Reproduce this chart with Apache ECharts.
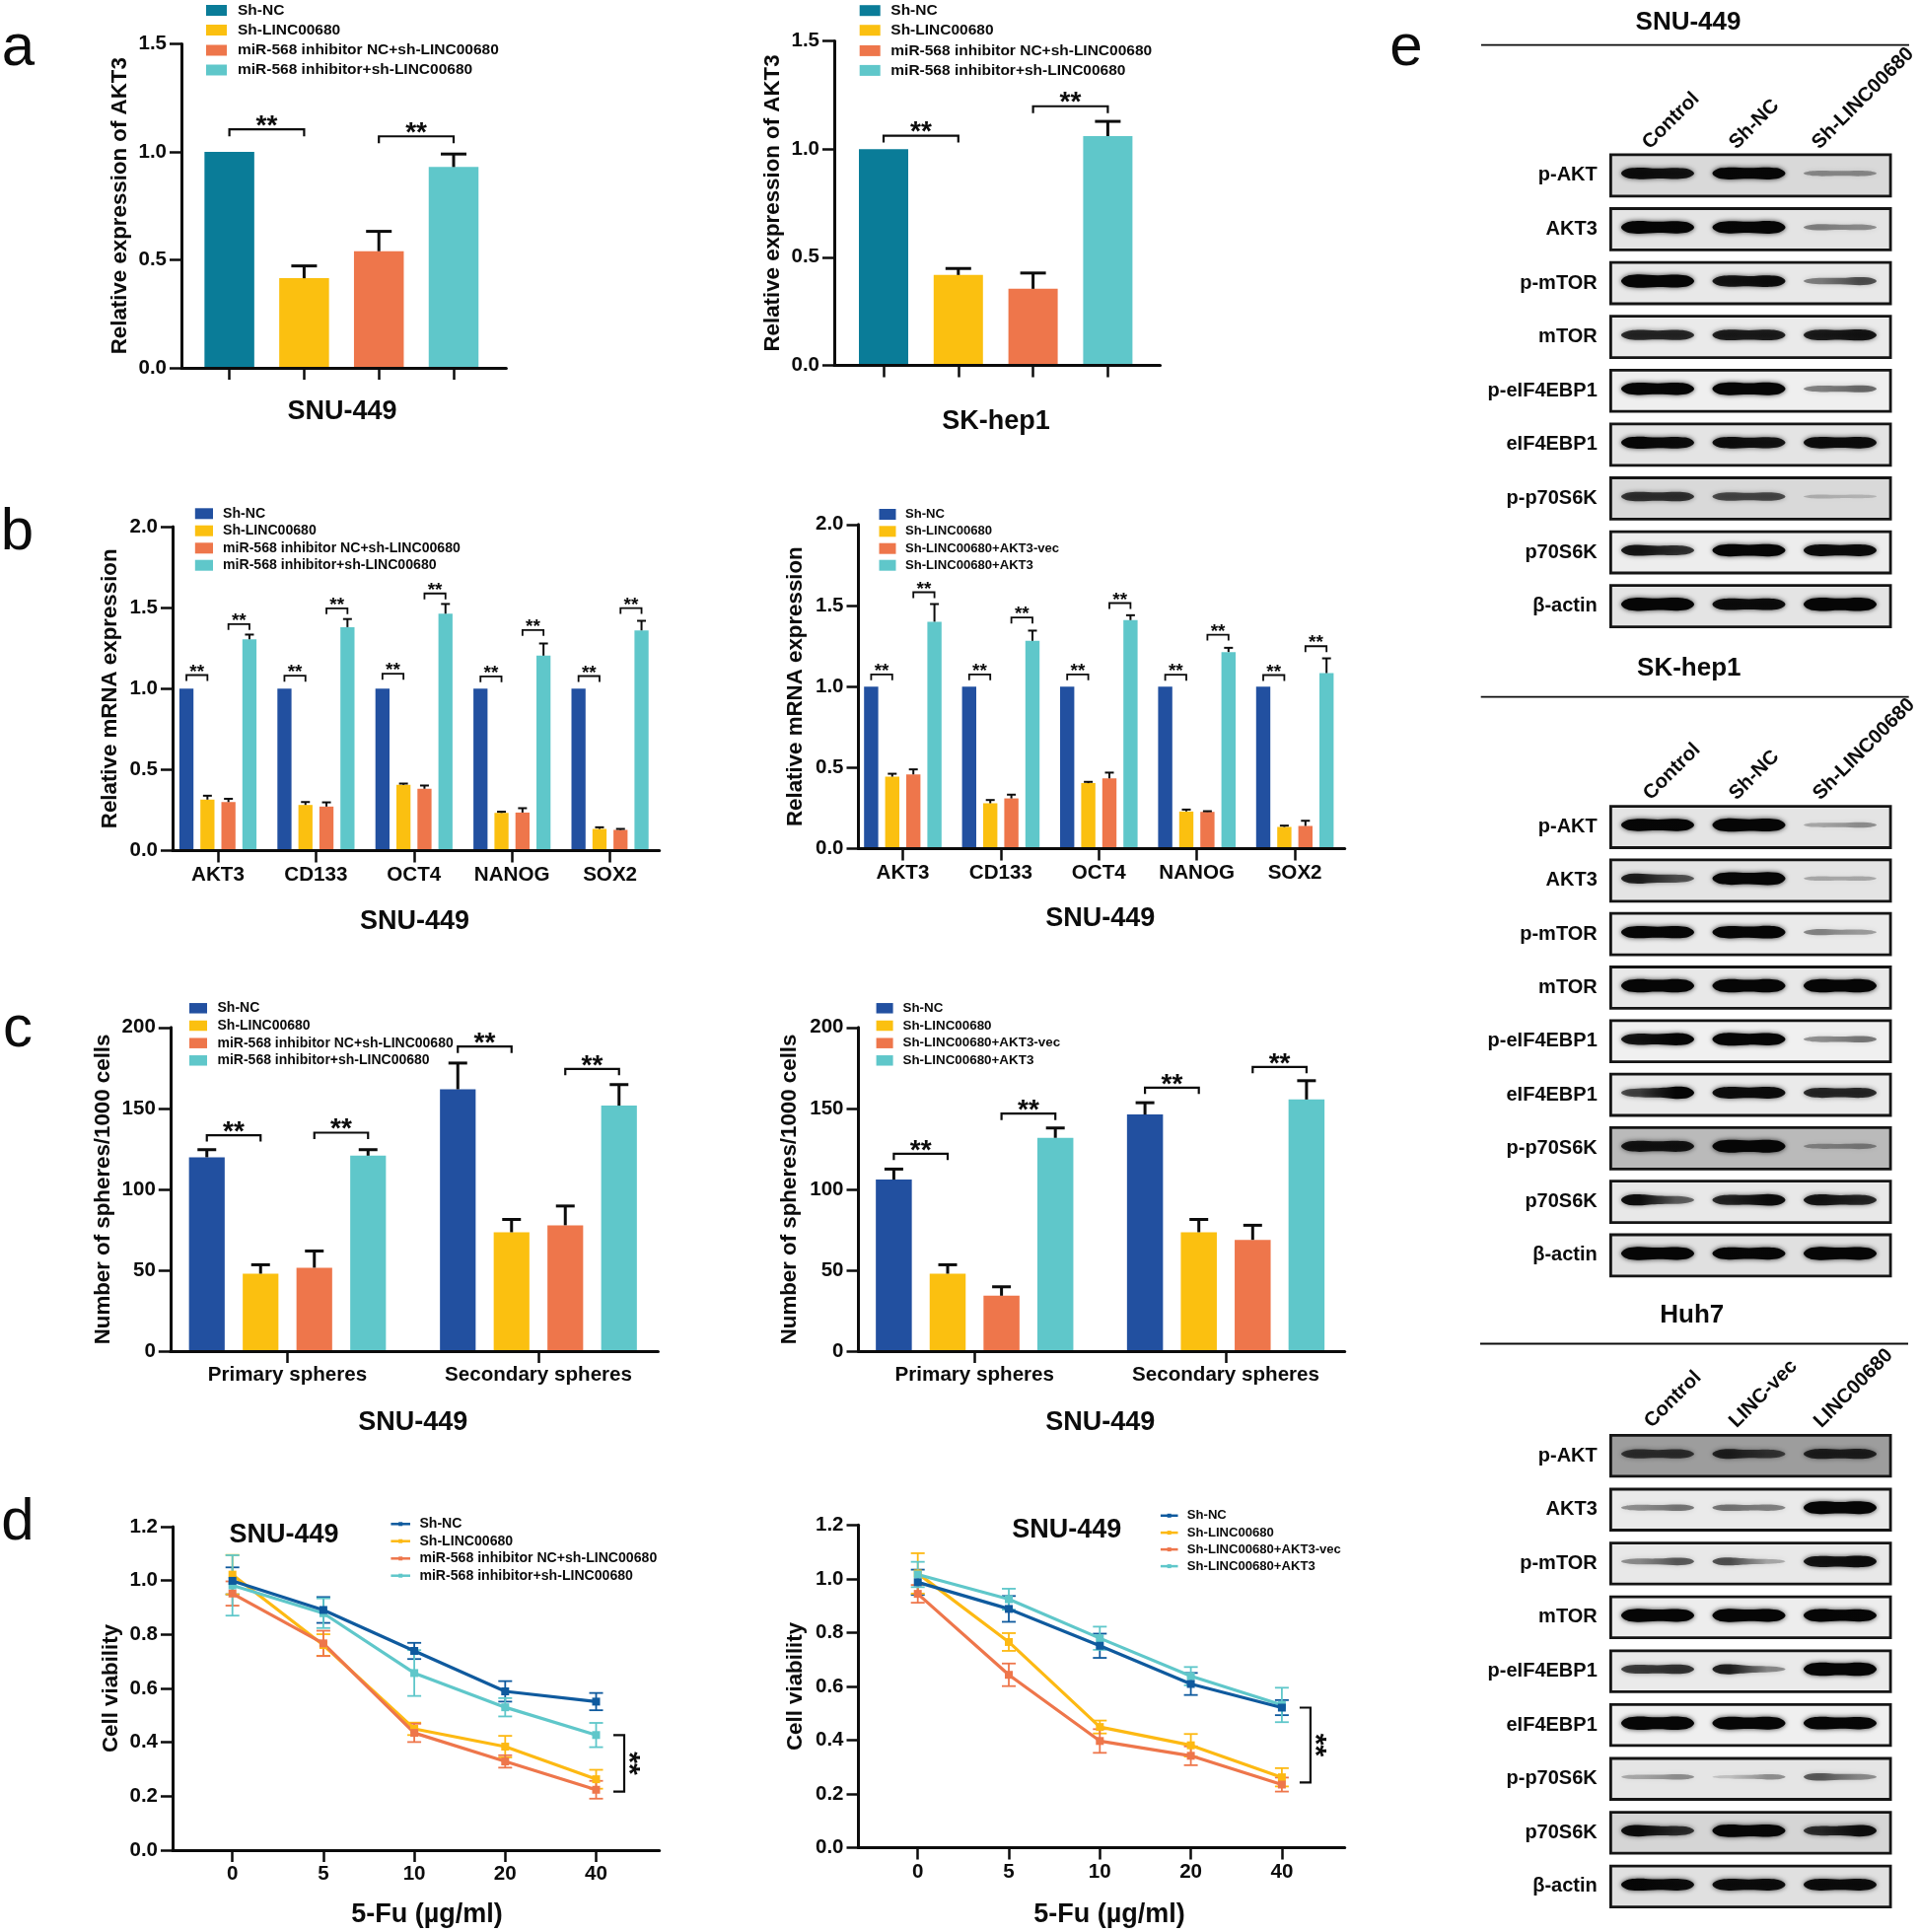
<!DOCTYPE html>
<html><head><meta charset="utf-8">
<style>html,body{margin:0;padding:0;background:#fff}#c{width:1946px;height:1959px}</style>
<script src="https://cdn.jsdelivr.net/npm/echarts@6/dist/echarts.min.js"></script></head>
<body><div id="c"></div>
<script>
// ---------- DATA ----------
const legendInhibitor=['Sh-NC','Sh-LINC00680','miR-568 inhibitor NC+sh-LINC00680','miR-568 inhibitor+sh-LINC00680'];
const legendAkt3=['Sh-NC','Sh-LINC00680','Sh-LINC00680+AKT3-vec','Sh-LINC00680+AKT3'];
const genes=['AKT3','CD133','OCT4','NANOG','SOX2'];
const sphereTypes=['Primary spheres','Secondary spheres'];
const doses=['0','5','10','20','40'];

const aLeftValues=[1,0.415,0.54,0.93];
const aLeftTops=[1,0.472,0.632,0.99];
const aRightValues=[1,0.418,0.354,1.06];
const aRightTops=[1,0.448,0.427,1.128];

const bLeftNC=[1,1,1,1,1];
const bLeftSh=[0.315,0.282,0.406,0.233,0.134];
const bLeftInhNC=[0.30,0.272,0.382,0.235,0.128];
const bLeftInh=[1.305,1.38,1.463,1.204,1.36];
const bLeftShTop=[0.339,0.30,0.414,0.24,0.144];
const bLeftInhNCTop=[0.32,0.298,0.402,0.262,0.134];
const bLeftInhTop=[1.334,1.43,1.523,1.279,1.419];
const bLeftPair1=[1.084,1.08,1.092,1.076,1.078];
const bLeftPair2=[1.399,1.496,1.588,1.362,1.498];

const bRightNC=[1,1,1,1,1];
const bRightSh=[0.444,0.28,0.404,0.229,0.134];
const bRightVec=[0.458,0.31,0.434,0.227,0.14];
const bRightAkt=[1.40,1.282,1.41,1.213,1.083];
const bRightShTop=[0.462,0.30,0.412,0.241,0.142];
const bRightVecTop=[0.489,0.333,0.469,0.231,0.172];
const bRightAktTop=[1.509,1.345,1.44,1.239,1.174];
const bRightPair1=[1.075,1.075,1.075,1.073,1.071];
const bRightPair2=[1.582,1.426,1.515,1.32,1.249];

const cLeftNC=[119.8,161.8], cLeftSh=[47.9,73.5], cLeftInhNC=[51.6,77.8], cLeftInh=[120.8,151.7];
const cLeftNCTop=[124.5,178], cLeftShTop=[53.4,81.4], cLeftInhNCTop=[61.9,89.7], cLeftInhTop=[124.5,164.7];
const cLeftPair1=[133.4,188.2], cLeftPair2=[135,174.4];
const cRightNC=[106,146.2], cRightSh=[47.9,73.5], cRightVec=[34.3,68.8], cRightAkt=[131.8,155.5];
const cRightNCTop=[112.5,153.5], cRightShTop=[53.4,81.4], cRightVecTop=[39.8,77.8], cRightAktTop=[137.9,167.1];
const cRightPair1=[122,162.8], cRightPair2=[146.8,175.6];

const dLeftNC=[0.999,0.891,0.739,0.589,0.551], dLeftNCErr=[0.05,0.048,0.03,0.038,0.032];
const dLeftSh=[1.022,0.761,0.45,0.384,0.263], dLeftShErr=[0.073,0.04,0.023,0.04,0.035];
const dLeftInhNC=[0.952,0.767,0.435,0.329,0.224], dLeftInhNCErr=[0.045,0.047,0.034,0.023,0.033];
const dLeftInh=[0.982,0.879,0.657,0.53,0.427], dLeftInhErr=[0.112,0.055,0.085,0.034,0.045];
const dRightNC=[0.987,0.888,0.751,0.609,0.521], dRightNCErr=[0.047,0.048,0.045,0.041,0.028];
const dRightSh=[1.02,0.765,0.449,0.381,0.262], dRightShErr=[0.075,0.033,0.024,0.042,0.034];
const dRightVec=[0.944,0.643,0.397,0.342,0.235], dRightVecErr=[0.033,0.042,0.044,0.035,0.026];
const dRightAkt=[1.016,0.924,0.779,0.638,0.531], dRightAktErr=[0.047,0.039,0.043,0.034,0.064];

const blotRows=['p-AKT','AKT3','p-mTOR','mTOR','p-eIF4EBP1','eIF4EBP1','p-p70S6K','p70S6K','β-actin'];
const lanesKnockdown=['Control','Sh-NC','Sh-LINC00680'];
const lanesOverexpress=['Control','LINC-vec','LINC00680'];
// band strength, left & right half of each lane
const blotSnu=[[.85,.8,.9,.9,.3,.3],[.95,.9,.9,.95,.35,.3],[1,.95,.8,.85,.35,.55],[.7,.7,.75,.75,.75,.8],[.9,.9,.95,.95,.35,.45],[.9,.85,.85,.8,.85,.85],[.65,.65,.55,.55,.15,.12],[.8,.65,.9,.9,.85,.85],[1,.95,.85,.85,1,1]];
const blotSk=[[.9,.9,1,.95,.2,.3],[.75,.5,.9,1,.2,.2],[.9,.9,.9,.95,.35,.25],[1,1,1,1,1,1],[.8,.9,.95,.9,.3,.4],[.55,.95,.85,.85,.7,.7],[.8,.8,.95,.95,.25,.3],[.85,.45,.7,.85,.8,.7],[1,.95,.9,.9,1,.95]];
const blotHuh=[[.6,.6,.7,.55,.7,.7],[.3,.4,.4,.35,.95,.95],[.3,.5,.55,.2,.8,.85],[1,.95,1,.95,.95,.9],[.6,.65,.75,.3,1,1],[1,1,.95,.95,.95,.9],[.2,.3,.1,.3,.5,.3],[.85,.65,.95,.9,.65,.85],[.9,.85,.85,.85,.85,.85]];
// membrane background darkness per row
const blotSnuBack=[.22,.15,.12,.1,.06,.15,.22,.08,.15];
const blotSkBack=[.15,.15,.1,.12,.05,.1,.4,.12,.18];
const blotHuhBack=[.55,.1,.12,.08,.1,.06,.14,.25,.18];

// ---------- BUILD ----------
const FONT='"Liberation Sans", Arial, sans-serif';
const TEAL_DARK='#0A7C98',NAVY='#2250A0',YEL='#FBC010',ORG='#EE764B',TEAL='#5FC7CA',LNAVY='#0F5A9E';
const INK='#0c0c0c';
const grid=[],xAxis=[],yAxis=[],series=[],graphic=[];

function txt(text,x,y,size,o){o=o||{};return {type:'text',x,y,rotation:o.rot||0,silent:true,z:50,style:{text,fontFamily:FONT,fontSize:size,fontWeight:o.weight||'bold',fill:o.fill||INK,align:o.align||'center',textAlign:o.align||'center',verticalAlign:o.va||'middle',textVerticalAlign:o.va||'middle'}};}
function rectLegend(names,colors,x,w,h,ys,tx,size){names.forEach((n,i)=>{
  graphic.push({type:'rect',silent:true,shape:{x,y:ys[i]-h/2,width:w,height:h},style:{fill:colors[i]}});
  graphic.push(txt(n,tx,ys[i],size,{align:'left'}));});}
function lineLegend(names,colors,x,w,ys,tx,size){names.forEach((n,i)=>{
  graphic.push({type:'line',silent:true,shape:{x1:x,y1:ys[i],x2:x+w,y2:ys[i]},style:{stroke:colors[i],lineWidth:2.5}});
  graphic.push({type:'rect',silent:true,shape:{x:x+w/2-2,y:ys[i]-2,width:4,height:4},style:{fill:colors[i]}});
  graphic.push(txt(n,tx,ys[i],size,{align:'left'}));});}

function frame(p){ // axis frame spanning the whole panel
  const g=grid.length;
  grid.push({left:p.axisX,top:p.top,width:p.right-p.axisX,height:p.y0-p.top});
  xAxis.push({gridIndex:g,type:'value',min:0,max:1,z:10,axisLine:{show:true,onZero:false,lineStyle:{color:INK,width:3}},axisTick:{show:false},axisLabel:{show:false},splitLine:{show:false}});
  yAxis.push({gridIndex:g,type:'value',min:0,max:p.ymax,interval:p.interval,z:10,
    name:p.yTitle,nameLocation:'middle',nameRotate:90,nameGap:p.axisX-p.yTitleX-p.yTitleSize/2,
    nameTextStyle:{fontFamily:FONT,fontWeight:'bold',fontSize:p.yTitleSize,color:INK},
    axisLine:{show:true,lineStyle:{color:INK,width:3}},axisTick:{show:true,length:12,lineStyle:{color:INK,width:2.5}},
    axisLabel:{margin:15,fontFamily:FONT,fontWeight:'bold',fontSize:20.5,color:INK,formatter:p.fmt},splitLine:{show:false}});
}
function dataGrid(p){ // category grid with the marks, same y scale as the frame
  const g=grid.length;
  grid.push({left:p.firstTick-p.band/2,top:p.top,width:p.band*p.cats.length,height:p.y0-p.top});
  xAxis.push({gridIndex:g,type:'category',data:p.cats,z:10,axisLine:{show:false},axisTick:{show:true,alignWithLabel:true,length:p.tickLen||12,lineStyle:{color:INK,width:2.5}},
    axisLabel:{show:!!p.showLabels,interval:0,margin:p.labelMargin||14,fontFamily:FONT,fontWeight:'bold',fontSize:20.6,color:INK}});
  yAxis.push({gridIndex:g,type:'value',min:0,max:p.ymax,show:false});
  return g;
}
function errBars(g,items,spacing,n,color,lw,cap){
  series.push({type:'custom',xAxisIndex:g,yAxisIndex:g,z:3,silent:true,data:items,encode:{x:0,y:[2,3]},clip:false,
    renderItem(params,api){
      const off=(api.value(1)-(n-1)/2)*spacing;
      const a=api.coord([api.value(0),api.value(2)]),b=api.coord([api.value(0),api.value(3)]);
      const x=a[0]+off;const st={stroke:color,lineWidth:lw};
      return {type:'group',children:[
        {type:'line',shape:{x1:x,y1:a[1],x2:x,y2:b[1]},style:st},
        {type:'line',shape:{x1:x-cap,y1:b[1],x2:x+cap,y2:b[1]},style:st}]};
    }});
}
function brackets(g,items,spacing,n,drop,lw,starSize,starUp){
  series.push({type:'custom',xAxisIndex:g,yAxisIndex:g,z:4,silent:true,data:items,encode:{x:0,y:4},clip:false,
    renderItem(params,api){
      const a=api.coord([api.value(0),api.value(4)]),b=api.coord([api.value(2),api.value(4)]);
      const x1=a[0]+(api.value(1)-(n-1)/2)*spacing,x2=b[0]+(api.value(3)-(n-1)/2)*spacing,y=a[1];
      return {type:'group',children:[
        {type:'polyline',shape:{points:[[x1,y+drop],[x1,y],[x2,y],[x2,y+drop]]},style:{stroke:INK,lineWidth:lw,fill:null}},
        {type:'text',style:{text:'**',x:(x1+x2)/2,y:y-starUp,align:'center',textAlign:'center',verticalAlign:'middle',textVerticalAlign:'middle',fontFamily:FONT,fontWeight:'bold',fontSize:starSize,fill:INK}}]};
    }});
}
function barPanel(p){
  frame(p);
  const g=dataGrid(p);
  const n=p.seriesVals.length;
  p.seriesVals.forEach((vals,i)=>{
    series.push({type:'bar',name:p.names[i],xAxisIndex:g,yAxisIndex:g,barWidth:p.barW,barGap:((p.spacing-p.barW)/p.barW*100)+'%',z:2,silent:true,
      itemStyle:{color:p.colors[i]},data:vals});
    const items=[];vals.forEach((v,c)=>{if(p.tops[i]&&p.tops[i][c]>v)items.push([c,i,v,p.tops[i][c]]);});
    if(items.length)errBars(g,items,p.spacing,n,INK,p.errW,p.cap);
  });
  brackets(g,p.brackets,p.spacing,n,p.drop,p.brW,p.starSize,p.starUp);
  rectLegend(p.names,p.colors,p.legX,p.legW,p.legH,p.legY,p.legTx,p.legSize);
  graphic.push(txt(p.title,p.titleX,p.titleY,27));
}

// a: single-bar panels (four categories, one bar each)
function aPanel(p){
  frame(p);
  const g=dataGrid(p);
  series.push({type:'bar',name:p.yTitle,xAxisIndex:g,yAxisIndex:g,barWidth:p.barW,z:2,silent:true,
    data:p.values.map((v,i)=>({value:v,itemStyle:{color:p.colors[i]}}))});
  const items=[];p.values.forEach((v,c)=>{if(p.tops[c]>v)items.push([c,0,v,p.tops[c]]);});
  errBars(g,items,0,1,INK,3,13);
  brackets(g,p.brackets,0,1,7,2.2,28,3);
  rectLegend(p.cats,p.colors,p.legX,p.legW,11,p.legY,p.legTx,15.5);
  graphic.push(txt(p.title,p.titleX,p.titleY,27));
}
const aColors=[TEAL_DARK,YEL,ORG,TEAL];
aPanel({axisX:184,right:513.4,top:44.5,y0:373,ymax:1.5,interval:0.5,fmt:v=>v.toFixed(1),yTitle:'Relative expression of AKT3',yTitleX:121.5,yTitleSize:22.3,
  firstTick:232.6,band:75.8,cats:legendInhibitor,barW:50.5,values:aLeftValues,tops:aLeftTops,colors:aColors,
  brackets:[[0,0,1,0,1.104],[2,0,3,0,1.072]],legX:209,legW:21,legY:[10.5,30.5,51,71],legTx:241,title:'SNU-449',titleX:347,titleY:417.3});
aPanel({axisX:846,right:1176.5,top:41.5,y0:370.5,ymax:1.5,interval:0.5,fmt:v=>v.toFixed(1),yTitle:'Relative expression of AKT3',yTitleX:784,yTitleSize:22.3,
  firstTick:896,band:75.8,cats:legendInhibitor,barW:50,values:aRightValues,tops:aRightTops,colors:aColors,
  brackets:[[0,0,1,0,1.062],[2,0,3,0,1.198]],legX:871.7,legW:21,legY:[10.7,30.7,51.4,71.4],legTx:903.3,title:'SK-hep1',titleX:1010,titleY:427.3});

const bColors=[NAVY,YEL,ORG,TEAL];
const pairs=(a,b)=>a.flatMap((v,i)=>[[i,0,i,1,v],[i,2,i,3,b[i]]]);
barPanel({axisX:175,right:668.7,top:534.1,y0:862.5,ymax:2,interval:0.5,fmt:v=>v.toFixed(1),yTitle:'Relative mRNA expression',yTitleX:111.5,yTitleSize:22.3,
  firstTick:221,band:99.4,cats:genes,showLabels:true,names:legendInhibitor,colors:bColors,barW:14.3,spacing:21.3,
  seriesVals:[bLeftNC,bLeftSh,bLeftInhNC,bLeftInh],tops:[null,bLeftShTop,bLeftInhNCTop,bLeftInhTop],errW:2,cap:4.5,
  brackets:pairs(bLeftPair1,bLeftPair2),drop:6,brW:1.8,starSize:19,starUp:3,
  legX:197.8,legW:18.2,legH:11,legY:[520.8,538.2,555.8,573.2],legTx:226,legSize:14.1,title:'SNU-449',titleX:420.5,titleY:934.3});
barPanel({axisX:870.5,right:1363.7,top:531.8,y0:860.5,ymax:2,interval:0.5,fmt:v=>v.toFixed(1),yTitle:'Relative mRNA expression',yTitleX:807,yTitleSize:22.3,
  firstTick:915.5,band:99.4,cats:genes,showLabels:true,names:legendAkt3,colors:bColors,barW:14.4,spacing:21.4,
  seriesVals:[bRightNC,bRightSh,bRightVec,bRightAkt],tops:[null,bRightShTop,bRightVecTop,bRightAktTop],errW:2,cap:4.5,
  brackets:pairs(bRightPair1,bRightPair2),drop:6,brW:1.8,starSize:19,starUp:3,
  legX:891.5,legW:17,legH:11,legY:[521.5,538.8,556.2,573.2],legTx:918,legSize:13.1,title:'SNU-449',titleX:1115.8,titleY:932});

barPanel({axisX:172.8,right:667.4,top:1041.8,y0:1370.1,ymax:200,interval:50,yTitle:'Number of spheres/1000 cells',yTitleX:105.2,yTitleSize:22.3,
  firstTick:291.5,band:254.5,cats:sphereTypes,showLabels:true,names:legendInhibitor,colors:bColors,barW:36.2,spacing:54.5,
  seriesVals:[cLeftNC,cLeftSh,cLeftInhNC,cLeftInh],tops:[cLeftNCTop,cLeftShTop,cLeftInhNCTop,cLeftInhTop],errW:3,cap:9.5,
  brackets:pairs(cLeftPair1,cLeftPair2),drop:6.5,brW:2.2,starSize:28,starUp:3,
  legX:192,legW:18,legH:10.5,legY:[1022.3,1040,1057.7,1075.3],legTx:220.5,legSize:14,title:'SNU-449',titleX:418.8,titleY:1442.3});
barPanel({axisX:870.5,right:1363.7,top:1041.8,y0:1370.1,ymax:200,interval:50,yTitle:'Number of spheres/1000 cells',yTitleX:801,yTitleSize:22.3,
  firstTick:988.3,band:254.7,cats:sphereTypes,showLabels:true,names:legendAkt3,colors:bColors,barW:36.5,spacing:54.6,
  seriesVals:[cRightNC,cRightSh,cRightVec,cRightAkt],tops:[cRightNCTop,cRightShTop,cRightVecTop,cRightAktTop],errW:3,cap:9.5,
  brackets:pairs(cRightPair1,cRightPair2),drop:6.5,brW:2.2,starSize:28,starUp:3,
  legX:888.6,legW:17,legH:10.5,legY:[1022.3,1040,1057.7,1075.3],legTx:915.5,legSize:13.4,title:'SNU-449',titleX:1115.8,titleY:1442.3});

function linePanel(p){
  frame(p);
  const g=dataGrid(p);
  p.vals.forEach((vals,i)=>{
    const items=vals.map((v,c)=>[c,v-p.errs[i][c],v+p.errs[i][c]]);
    series.push({type:'custom',xAxisIndex:g,yAxisIndex:g,z:3,silent:true,data:items,encode:{x:0,y:[1,2]},clip:false,
      renderItem(params,api){
        const a=api.coord([api.value(0),api.value(1)]),b=api.coord([api.value(0),api.value(2)]);
        const st={stroke:p.colors[i],lineWidth:1.8},x=a[0],c=7;
        return {type:'group',children:[
          {type:'line',shape:{x1:x,y1:a[1],x2:x,y2:b[1]},style:st},
          {type:'line',shape:{x1:x-c,y1:a[1],x2:x+c,y2:a[1]},style:st},
          {type:'line',shape:{x1:x-c,y1:b[1],x2:x+c,y2:b[1]},style:st}]};
      }});
    series.push({type:'line',name:p.names[i],xAxisIndex:g,yAxisIndex:g,z:4+ (i===0?1:0),silent:true,data:vals,symbol:'rect',symbolSize:8,showSymbol:true,
      lineStyle:{color:p.colors[i],width:3.2},itemStyle:{color:p.colors[i]}});
  });
  series.push({type:'custom',xAxisIndex:g,yAxisIndex:g,z:6,silent:true,data:[[p.brCat,p.brLow,p.brHigh]],encode:{x:0,y:[1,2]},clip:false,
    renderItem(params,api){
      const a=api.coord([api.value(0),api.value(1)]),b=api.coord([api.value(0),api.value(2)]);
      const x=a[0]+p.brOff;
      return {type:'group',children:[
        {type:'polyline',shape:{points:[[x-11,a[1]],[x,a[1]],[x,b[1]],[x-11,b[1]]]},style:{stroke:INK,lineWidth:2.2,fill:null}},
        {type:'text',rotation:-Math.PI/2,x:x+4,y:(a[1]+b[1])/2,style:{text:'**',align:'center',textAlign:'center',verticalAlign:'middle',textVerticalAlign:'middle',fontFamily:FONT,fontWeight:'bold',fontSize:30,fill:INK}}]};
    }});
  lineLegend(p.names,p.colors,p.legX,p.legW,p.legY,p.legTx,p.legSize);
  graphic.push(txt('SNU-449',p.innerX,p.innerY,27));
  graphic.push(txt('5-Fu (µg/ml)',p.xTitleX,1941.3,27));
}
const dColors=[LNAVY,'#FDB913',ORG,TEAL];
linePanel({axisX:175,right:668.7,top:1548,y0:1876,ymax:1.2,interval:0.2,fmt:v=>v.toFixed(1),yTitle:'Cell viability',yTitleX:113.2,yTitleSize:22.3,
  firstTick:235.7,band:92.2,cats:doses,showLabels:true,names:legendInhibitor,colors:dColors,
  vals:[dLeftNC,dLeftSh,dLeftInhNC,dLeftInh],errs:[dLeftNCErr,dLeftShErr,dLeftInhNCErr,dLeftInhErr],
  brCat:4,brLow:0.217,brHigh:0.427,brOff:28.5,legX:396.4,legW:19.6,legY:[1545.3,1562.7,1580.3,1597.7],legTx:425.4,legSize:14.1,innerX:288,innerY:1556.5,xTitleX:433});
linePanel({axisX:870.5,right:1363.7,top:1546.3,y0:1873.6,ymax:1.2,interval:0.2,fmt:v=>v.toFixed(1),yTitle:'Cell viability',yTitleX:807,yTitleSize:22.3,
  firstTick:930.7,band:92.3,cats:doses,showLabels:true,names:legendAkt3,colors:dColors,
  vals:[dRightNC,dRightSh,dRightVec,dRightAkt],errs:[dRightNCErr,dRightShErr,dRightVecErr,dRightAktErr],
  brCat:4,brLow:0.243,brHigh:0.521,brOff:29,legX:1176.9,legW:17.6,legY:[1536.8,1554.1,1571.1,1588.1],legTx:1203.8,legSize:13.1,innerX:1081.8,innerY:1551.8,xTitleX:1125});

// e: western blots
function blotPanel(p){
  const g=grid.length,L=1634.75,W=277.5,pitch=p.pitch,H=p.frameH;
  grid.push({left:L,top:p.firstTop-(pitch-H)/2,width:W,height:pitch*blotRows.length});
  xAxis.push({gridIndex:g,type:'category',data:p.lanes,show:false});
  yAxis.push({gridIndex:g,type:'category',inverse:true,data:blotRows,axisLine:{show:false},axisTick:{show:false},
    axisLabel:{margin:15,fontFamily:FONT,fontWeight:'bold',fontSize:20,color:INK}});
  series.push({type:'custom',xAxisIndex:g,yAxisIndex:g,z:2,silent:true,clip:false,data:p.back.map((b,r)=>[r,b]),encode:{y:0},
    renderItem(params,api){
      const c=api.coord([0,api.value(0)]),gray=Math.round(244-190*Math.pow(api.value(1),1.3));
      return {type:'rect',shape:{x:1633.4,y:c[1]-H/2+1.4,width:283.7,height:H-2.8},style:{fill:`rgb(${gray},${gray},${gray})`,stroke:'#151515',lineWidth:2.8}};
    }});
  const items=[];p.bands.forEach((row,r)=>{for(let k=0;k<6;k+=2)items.push([k/2,r,row[k],row[k+1]]);});
  series.push({type:'custom',xAxisIndex:g,yAxisIndex:g,z:3,silent:true,clip:false,data:items,encode:{x:0,y:1},
    renderItem(params,api){
      const c=api.coord([api.value(0),api.value(1)]),l=api.value(2),r=api.value(3);
      const hl=2+10*l,hr=2+10*r,w=37,cy=c[1]-2,x=c[0],hm=(hl+hr)/2;
      const al=s=>Math.min(1,0.05+1.05*s);
      const points=[[x-w,cy],[x-w+9,cy-hl/2],[x,cy-hm/2],[x+w-9,cy-hr/2],[x+w,cy],[x+w-9,cy+hr/2],[x,cy+hm/2],[x-w+9,cy+hl/2]];
      return {type:'polygon',shape:{points,smooth:0.4},style:{
        fill:new echarts.graphic.LinearGradient(0,0,1,0,[{offset:0.25,color:`rgba(6,6,6,${al(l)})`},{offset:0.75,color:`rgba(6,6,6,${al(r)})`}]),
        shadowBlur:5,shadowColor:`rgba(6,6,6,${al((l+r)/2)*0.8})`}};
    }});
  graphic.push(txt(p.title,p.titleX,p.titleY,26));
  graphic.push({type:'line',silent:true,shape:{x1:p.lineX1,y1:p.lineY,x2:p.lineX2,y2:p.lineY},style:{stroke:INK,lineWidth:1.8}});
  p.lanes.forEach((t,i)=>graphic.push(txt(t,p.labelX[i],p.labelY,20.3,{align:'left',rot:Math.PI/4})));
}
blotPanel({lanes:lanesKnockdown,bands:blotSnu,back:blotSnuBack,firstTop:155.5,pitch:54.6,frameH:44.7,title:'SNU-449',titleX:1712,titleY:23,lineX1:1502,lineX2:1936,lineY:45.7,labelX:[1669,1757,1841],labelY:148});
blotPanel({lanes:lanesKnockdown,bands:blotSk,back:blotSkBack,firstTop:816.2,pitch:54.3,frameH:44.7,title:'SK-hep1',titleX:1712.8,titleY:678,lineX1:1501.7,lineX2:1935.7,lineY:706.7,labelX:[1670,1757,1842],labelY:808});
blotPanel({lanes:lanesOverexpress,bands:blotHuh,back:blotHuhBack,firstTop:1454,pitch:54.6,frameH:44.3,title:'Huh7',titleX:1715.8,titleY:1333.7,lineX1:1501,lineX2:1935,lineY:1362.5,labelX:[1671,1757,1843],labelY:1444.5});

// panel letters
[['a',18.5,49],['b',17.5,540],['c',18,1044],['d',18,1544],['e',1426,49]].forEach(l=>graphic.push(txt(l[0],l[1],l[2],60,{weight:'normal'})));

const chart=echarts.init(document.getElementById('c'),null,{renderer:'canvas',width:1946,height:1959});
chart.setOption({animation:false,backgroundColor:'#fff',grid,xAxis,yAxis,series,graphic});
</script></body></html>
